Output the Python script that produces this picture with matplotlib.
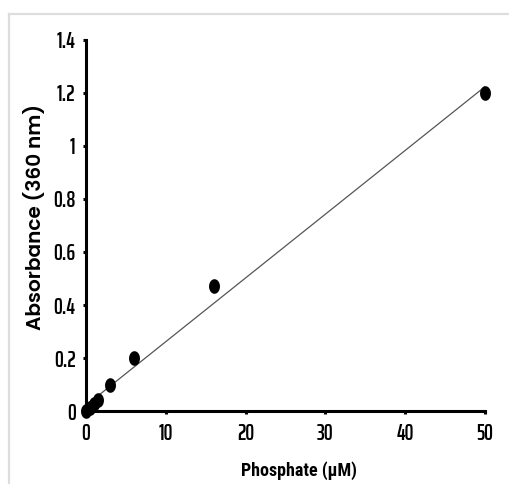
import numpy as np
import matplotlib.pyplot as plt
from matplotlib.lines import Line2D
from matplotlib.path import Path

# standard curve data
phosphate = [0, 0.5, 1, 1.5, 3, 6, 16, 50]
absorbance = [0, 0.01, 0.025, 0.04, 0.1, 0.2, 0.47, 1.2]
xticks = [0, 10, 20, 30, 40, 50]
yticks = [0, 0.2, 0.4, 0.6, 0.8, 1, 1.2, 1.4]
ytick_labels = ['0', '0.2', '0.4', '0.6', '0.8', '1', '1.2', '1.4']

tick_font = ['Saira ExtraCondensed', 'Roboto Condensed', 'DejaVu Sans']
xlab_font = ['Roboto Condensed', 'DejaVu Sans']
ylab_font = ['Poppins', 'DejaVu Sans']

# the original picture is squeezed sideways, so the dots are a bit tall
t = np.linspace(0, 2 * np.pi, 60)
dot = Path(np.column_stack([0.72 * np.cos(t), np.sin(t)]), closed=True)

fig = plt.figure(figsize=(5.1, 4.84), dpi=100)
ax = fig.add_axes([0.1686, 0.1508, 0.7824, 0.7666])

slope, icpt = np.polyfit(phosphate, absorbance, 1)
xf = np.array([0, 50])
ax.plot(xf, slope * xf + icpt, color='#555555', lw=0.9, zorder=2)
ax.plot(phosphate, absorbance, linestyle='none', marker=dot, color='black', ms=9.5, zorder=3, clip_on=False)

ax.set_xlim(0, 50)
ax.set_ylim(0, 1.4)
ax.set_xticks(xticks)
ax.set_yticks(yticks)
ax.set_yticklabels(ytick_labels)
for s in ['top', 'right']:
    ax.spines[s].set_visible(False)
for s in ['left', 'bottom']:
    ax.spines[s].set_linewidth(2.2)
ax.tick_params(direction='out', length=2.5, width=2.2)
ax.tick_params(axis='y', pad=5)
ax.tick_params(axis='x', pad=6)
for lab in ax.get_xticklabels() + ax.get_yticklabels():
    lab.set_fontfamily(tick_font)
    lab.set_fontweight(600)
    lab.set_fontsize(16)

ax.set_xlabel('Phosphate (µM)', fontsize=13, fontweight='bold', family=xlab_font)
ax.set_ylabel('Absorbance (360 nm)', fontsize=14.5, fontweight=600, family=ylab_font)
ax.xaxis.set_label_coords(0.534, -0.135)
ax.yaxis.set_label_coords(-0.10, 0.522)

# light gray frame around the figure
fig.add_artist(Line2D([9.5/510, 9.5/510], [0, 1 - 13.5/484], color='#dddddd', lw=1.6, transform=fig.transFigure))
fig.add_artist(Line2D([9.5/510, 1], [1 - 13.5/484, 1 - 13.5/484], color='#dddddd', lw=1.6, transform=fig.transFigure))

fig.savefig('out.png', dpi=100)
